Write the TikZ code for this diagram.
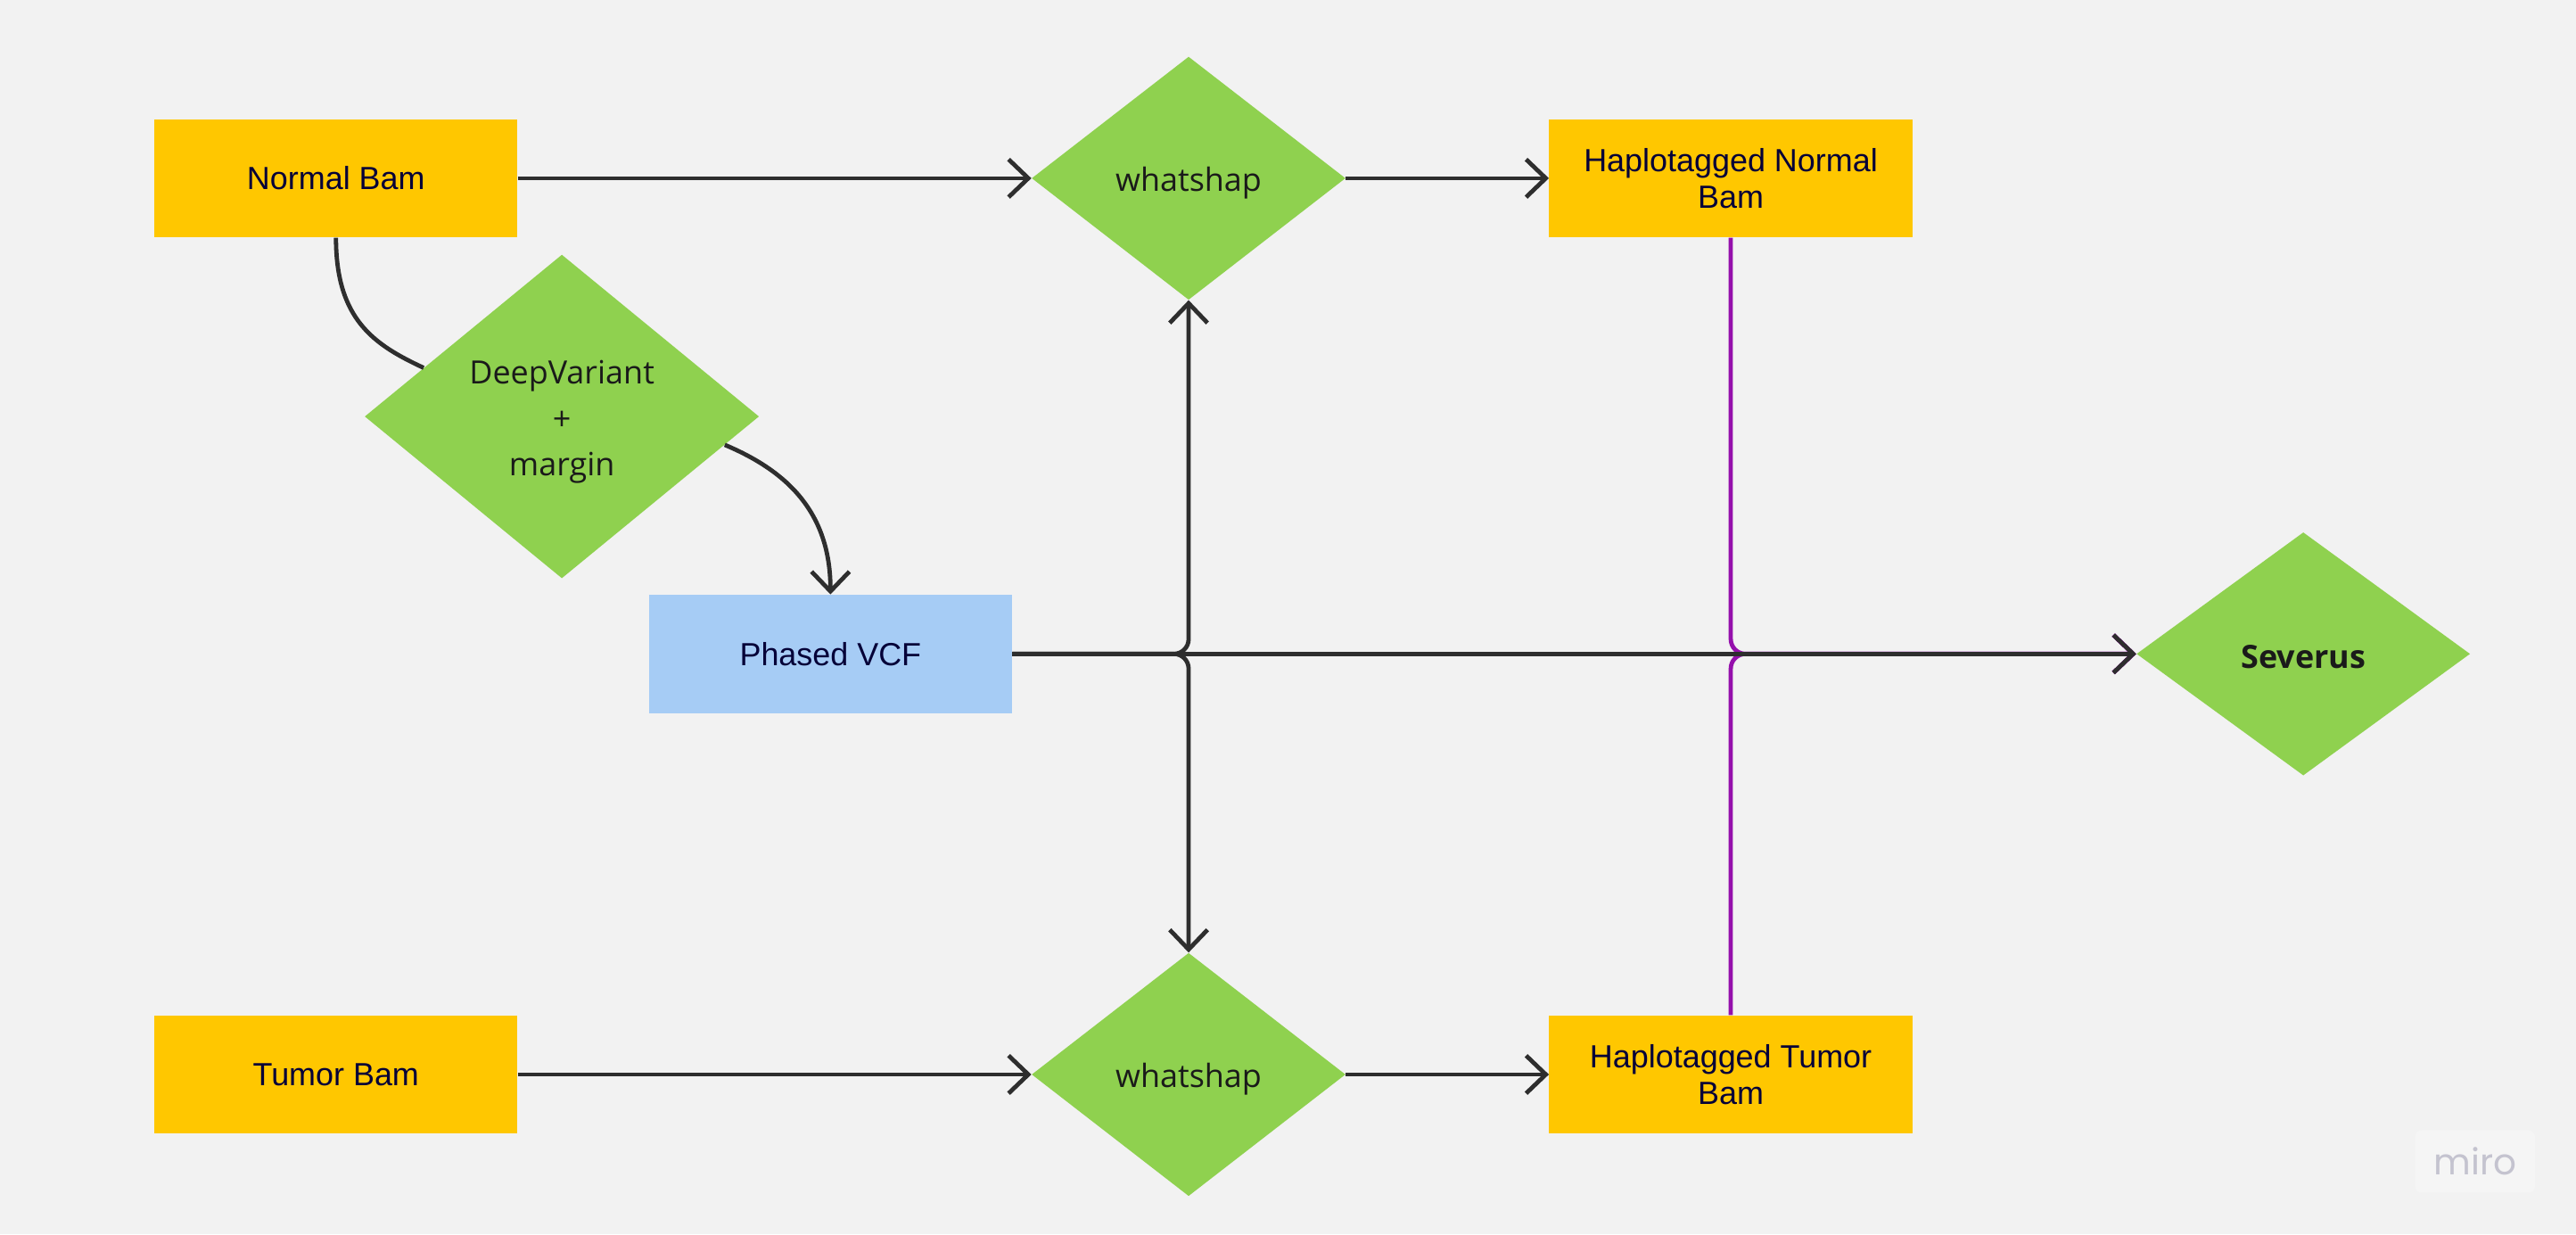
\documentclass[tikz,border=0pt]{standalone}
\usepackage{fontspec}
\setmainfont{Liberation Sans}
\newfontfamily\osfont{Open Sans}
\newfontfamily\popfont{Poppins}
\usetikzlibrary{shapes.geometric,arrows.meta,calc}
\definecolor{bg}{HTML}{F2F2F2}
\definecolor{myyellow}{HTML}{FFC700}
\definecolor{mygreen}{HTML}{8FD14F}
\definecolor{myblue}{HTML}{A6CCF5}
\definecolor{mypurple}{HTML}{9510AC}
\definecolor{lineclr}{HTML}{2E2E2E}
\definecolor{boxtext}{HTML}{050038}
\definecolor{dtext}{HTML}{1A1A1A}
\definecolor{logoclr}{HTML}{C4C3CF}
\definecolor{logobg}{HTML}{F5F5F5}
\begin{document}
\begin{tikzpicture}[x=1pt,y=-1pt,
  box/.style={rectangle, fill=#1, minimum width=221pt, minimum height=72pt, inner sep=0pt, align=center, text=boxtext, font=\fontsize{19.5pt}{22pt}\selectfont},
  dia/.style={diamond, fill=mygreen, inner sep=0pt},
  dtxt/.style={inner sep=0pt, align=center, text=dtext, font=\osfont\fontsize{19.5pt}{28pt}\selectfont},
  plain/.style={draw=lineclr, line width=2.6pt},
  conn/.style={plain, -{Straight Barb[length=12pt,width=23pt]}},
  pconn/.style={draw=mypurple, line width=2.6pt, -{Straight Barb[length=12pt,width=23pt]}}
]
\path[fill=bg, use as bounding box] (0,0) rectangle (1568,751.2);

\node[box=myyellow] (NB) at (204.5,108.5) {Normal Bam};
\node[box=myyellow] (TB) at (204.5,654) {Tumor Bam};
\node[box=myyellow] (HN) at (1053.5,108.5) {Haplotagged Normal\\Bam};
\node[box=myyellow] (HT) at (1053.5,654) {Haplotagged Tumor\\Bam};
\node[box=myblue] (VCF) at (505.5,398) {Phased VCF};
\node[dia, minimum width=191pt, minimum height=148pt] (WT) at (723.5,108.5) {};
\node[dia, minimum width=191pt, minimum height=148pt] (WB) at (723.5,654) {};
\node[dia, minimum width=240pt, minimum height=197pt] (DV) at (342,253.5) {};
\node[dia, minimum width=203pt, minimum height=148pt] (SV) at (1402,398) {};

\node[dtxt] (WTt) at ([yshift=-3pt]WT.center) {whatshap};
\node[dtxt] (WBt) at ([yshift=-3pt]WB.center) {whatshap};
\node[dtxt] (DVt) at ([yshift=-3.5pt]DV.center) {DeepVariant\\+\\margin};
\node[dtxt, font=\osfont\bfseries\fontsize{19.5pt}{24pt}\selectfont] (SVt) at ([yshift=-2pt]SV.center) {Severus};

\node[rounded corners=4pt, fill=logobg, minimum width=73pt, minimum height=38pt, inner sep=0pt, text=logoclr, font=\popfont\fontsize{22pt}{22pt}\selectfont] (logo) at (1506.5,707) {miro};

\coordinate (DVin) at ($(DV.west)!0.3!(DV.north)$);
\coordinate (DVout) at ($(DV.east)!0.175!(DV.south)$);

\draw[conn] (NB.east) -- (WT.west);
\draw[conn] (WT.east) -- (HN.west);
\draw[conn] (TB.east) -- (WB.west);
\draw[conn] (WB.east) -- (HT.west);

\draw[plain] (NB.south) .. controls +(0,50) and +(-30,-14) .. (DVin);
\draw[conn] (DVout) .. controls +(38,16) and +(0,-50) .. (VCF.north);

\draw[pconn, rounded corners=9pt] (HN.south) |- (SV.west);
\draw[pconn, rounded corners=9pt] (HT.north) |- (SV.west);

\draw[conn, rounded corners=9pt] (VCF.east) -| (WT.south);
\draw[conn, rounded corners=9pt] (VCF.east) -| (WB.north);
\draw[conn] (VCF.east) -- (SV.west);
\end{tikzpicture}
\end{document}
